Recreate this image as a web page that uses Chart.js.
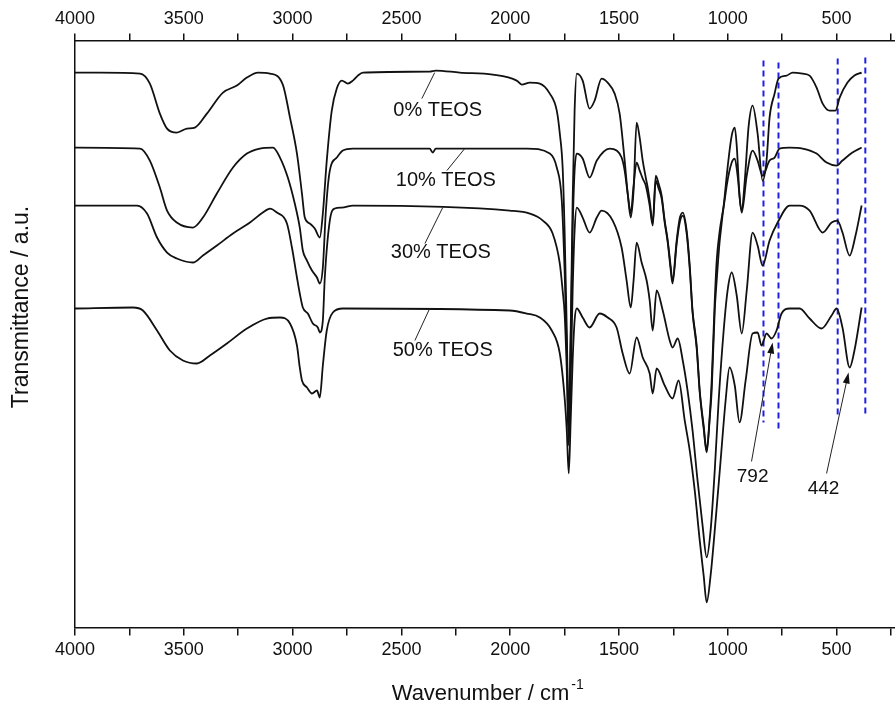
<!DOCTYPE html>
<html lang="en">
  <head>
    <meta charset="UTF-8" />
    <title>FTIR spectra of PEG / TEOS hybrids</title>
    <script src="https://cdn.jsdelivr.net/npm/chart.js"></script>
    <style>
      html,
      body {
        margin: 0;
        padding: 0;
        background: #ffffff;
      }

      .chart-container {
        position: relative;
        width: 895px;
        height: 704px;
      }
    </style>
  </head>
  <body>
    <div class="chart-container">
      <canvas id="ftirChart"></canvas>
    </div>

    <script>
      // Spectra: [wavenumber (cm-1), transmittance (a.u.)]
      const teos0 = [
        [4000, 555], [3885, 555], [3701, 554], [3656, 544], [3610, 514], [3577, 499], [3532, 495],
        [3486, 499], [3449, 500], [3394, 514], [3320, 535], [3256, 542], [3210, 550], [3159, 555],
        [3104, 554], [3045, 543], [3012, 510], [2980, 474], [2957, 434], [2944, 410], [2921, 404],
        [2898, 399], [2875, 390], [2861, 414], [2843, 467], [2820, 517], [2797, 539], [2774, 547],
        [2746, 544], [2723, 547], [2700, 552], [2677, 555], [2370, 556], [2342, 557], [2232, 555],
        [2080, 553], [1970, 547], [1947, 543], [1910, 545], [1864, 544], [1818, 534], [1786, 517],
        [1772, 494], [1759, 460], [1750, 397], [1740, 297], [1731, 207], [1722, 297], [1713, 427],
        [1704, 517], [1694, 554], [1667, 547], [1635, 519], [1612, 527], [1580, 549], [1552, 545],
        [1520, 534], [1497, 514], [1474, 467], [1460, 434], [1446, 410], [1433, 437], [1419, 505],
        [1405, 490], [1391, 467], [1377, 450], [1368, 440], [1359, 427], [1345, 404], [1331, 452],
        [1318, 444], [1304, 432], [1290, 407], [1276, 387], [1263, 362], [1254, 347], [1235, 387],
        [1221, 409], [1207, 415], [1189, 397], [1175, 362], [1162, 317], [1143, 282], [1129, 237],
        [1111, 202], [1097, 177], [1083, 212], [1074, 247], [1060, 327], [1051, 367], [1037, 397],
        [1019, 422], [1001, 460], [982, 492], [968, 500], [959, 482], [946, 432], [936, 417],
        [922, 447], [904, 502], [886, 522], [863, 494], [840, 447], [822, 467], [808, 510],
        [785, 534], [767, 549], [730, 552], [702, 555], [656, 554], [624, 552], [592, 540],
        [564, 524], [532, 517], [505, 517], [486, 530], [450, 545], [418, 552], [385, 555]
      ];

      const teos10 = [
        [4000, 480], [3701, 479], [3656, 467], [3610, 440], [3577, 417], [3532, 405], [3458, 400],
        [3412, 410], [3348, 434], [3274, 460], [3210, 474], [3150, 479], [3090, 480], [3058, 470],
        [3022, 450], [2990, 424], [2967, 400], [2953, 377], [2934, 367], [2911, 357], [2888, 350],
        [2875, 344], [2861, 360], [2847, 417], [2829, 457], [2797, 470], [2769, 477], [2723, 479],
        [2370, 479], [2356, 475], [2342, 479], [1924, 479], [1818, 474], [1786, 460], [1763, 427],
        [1750, 357], [1740, 277], [1731, 197], [1722, 287], [1713, 397], [1704, 457], [1694, 474],
        [1667, 469], [1635, 450], [1602, 467], [1543, 479], [1511, 477], [1488, 470], [1474, 457],
        [1460, 434], [1446, 414], [1433, 442], [1419, 465], [1405, 457], [1391, 449], [1377, 442],
        [1359, 422], [1345, 402], [1331, 447], [1318, 439], [1304, 429], [1290, 405], [1276, 385],
        [1263, 359], [1254, 344], [1235, 384], [1221, 405], [1207, 412], [1189, 394], [1175, 359],
        [1162, 315], [1143, 279], [1129, 235], [1111, 199], [1097, 175], [1083, 209], [1074, 237],
        [1060, 317], [1051, 347], [1037, 387], [1005, 442], [982, 465], [968, 469], [955, 452],
        [936, 415], [913, 452], [886, 477], [863, 467], [840, 452], [808, 467], [785, 470],
        [762, 479], [716, 480], [656, 479], [592, 474], [546, 465], [500, 462], [473, 467],
        [427, 475], [385, 480]
      ];

      const teos30 = [
        [4000, 422], [3715, 422], [3669, 414], [3623, 390], [3577, 375], [3532, 369], [3458, 365],
        [3412, 372], [3348, 382], [3274, 394], [3196, 405], [3137, 415], [3104, 419], [3072, 415],
        [3026, 404], [3003, 380], [2980, 350], [2967, 334], [2953, 320], [2930, 314], [2907, 304],
        [2884, 300], [2875, 295], [2861, 307], [2852, 350], [2829, 407], [2806, 419], [2774, 420],
        [2723, 422], [2002, 417], [1910, 414], [1850, 407], [1805, 394], [1772, 364], [1759, 337],
        [1750, 314], [1740, 257], [1731, 182], [1722, 247], [1713, 337], [1704, 397], [1694, 420],
        [1667, 410], [1635, 395], [1602, 410], [1580, 417], [1529, 407], [1488, 380], [1465, 347],
        [1446, 320], [1433, 347], [1419, 385], [1396, 365], [1373, 347], [1359, 327], [1345, 297],
        [1327, 337], [1299, 317], [1267, 287], [1254, 280], [1230, 289], [1207, 267], [1185, 237],
        [1162, 197], [1139, 147], [1116, 102], [1097, 70], [1079, 97], [1060, 157], [1042, 227],
        [1019, 297], [1001, 337], [982, 355], [959, 332], [936, 294], [913, 337], [886, 395],
        [863, 382], [840, 362], [808, 387], [771, 405], [716, 422], [670, 422], [624, 417],
        [564, 395], [523, 405], [496, 407], [473, 395], [440, 372], [413, 392], [385, 422]
      ];

      const teos50 = [
        [4000, 319], [3734, 320], [3688, 317], [3623, 297], [3564, 277], [3504, 267], [3440, 264],
        [3380, 272], [3302, 284], [3210, 299], [3118, 309], [3058, 310], [3012, 304], [2980, 282],
        [2967, 260], [2957, 247], [2934, 240], [2911, 234], [2888, 237], [2875, 230], [2861, 262],
        [2843, 297], [2815, 315], [2769, 319], [2002, 317], [1924, 314], [1864, 310], [1809, 297],
        [1772, 274], [1750, 230], [1740, 197], [1731, 154], [1722, 207], [1713, 267], [1704, 307],
        [1694, 319], [1667, 310], [1635, 300], [1589, 314], [1552, 310], [1511, 300], [1483, 274],
        [1451, 254], [1419, 290], [1391, 270], [1359, 254], [1345, 234], [1327, 259], [1290, 242],
        [1254, 229], [1226, 247], [1198, 207], [1175, 177], [1152, 137], [1129, 87], [1111, 52],
        [1097, 25], [1079, 52], [1056, 107], [1033, 167], [1010, 227], [992, 260], [968, 242],
        [946, 205], [918, 247], [886, 294], [863, 295], [845, 282], [822, 294], [799, 289],
        [776, 297], [753, 314], [716, 319], [670, 319], [624, 309], [569, 299], [523, 312],
        [500, 319], [473, 300], [440, 260], [418, 277], [385, 320]
      ];

      // Blue dashed guide lines: wavenumber, upper and lower end (a.u.)
      const guideWavenumbers = [836, 767, 495, 368];
      const guideTop = [567, 565, 569, 570];
      const guideBottom = [205, 195, 209, 210];

      // Axis ticks
      const tickValues = [4000, 3750, 3500, 3250, 3000, 2750, 2500, 2250, 2000, 1750, 1500, 1250, 1000, 750, 500, 250];
      const tickLabels = ["4000", "", "3500", "", "3000", "", "2500", "", "2000", "", "1500", "", "1000", "", "500", ""];

      // Curve names with leader lines, and the two marked bands
      const curveLabels = [
        { text: "0% TEOS", at: [2333, 517], from: [2406, 529], to: [2347, 555] },
        { text: "10% TEOS", at: [2296, 447], from: [2291, 457], to: [2209, 479] },
        { text: "30% TEOS", at: [2319, 375], from: [2392, 384], to: [2310, 420] },
        { text: "50% TEOS", at: [2310, 277], from: [2438, 287], to: [2370, 319] }
      ];
      const bandLabels = [
        { text: "792", at: [886, 151], from: [891, 166], to: [794, 285] },
        { text: "442", at: [560, 139], from: [546, 154], to: [445, 255] }
      ];

      const FONT = '"Liberation Sans", Arial, sans-serif';
      const toPoints = (pairs) => pairs.map(([x, y]) => ({ x, y }));

      const spectrumDataset = (pairs) => ({
        data: toPoints(pairs),
        borderColor: "#111111",
        borderWidth: 1.8,
        pointRadius: 0,
        fill: false,
        cubicInterpolationMode: "monotone"
      });

      const guideDatasets = guideWavenumbers.map((w, i) => ({
        data: [
          { x: w, y: guideTop[i] },
          { x: w, y: guideBottom[i] }
        ],
        borderColor: "#1f1fe6",
        borderWidth: 2,
        borderDash: [6, 4],
        pointRadius: 0,
        tension: 0,
        fill: false
      }));

      // Text, leader lines, arrows and axis titles
      const overlayPlugin = {
        id: "ftirOverlay",
        afterDatasetsDraw(chart) {
          const { ctx } = chart;
          const px = (w) => chart.scales.x.getPixelForValue(w);
          const py = (v) => chart.scales.y.getPixelForValue(v);
          ctx.save();
          ctx.fillStyle = "#111";
          ctx.strokeStyle = "#222";
          ctx.textAlign = "center";
          ctx.textBaseline = "middle";

          ctx.font = "20px " + FONT;
          curveLabels.forEach((l) => {
            ctx.lineWidth = 1;
            ctx.beginPath();
            ctx.moveTo(px(l.from[0]), py(l.from[1]));
            ctx.lineTo(px(l.to[0]), py(l.to[1]));
            ctx.stroke();
            ctx.fillText(l.text, px(l.at[0]), py(l.at[1]));
          });

          ctx.font = "19px " + FONT;
          bandLabels.forEach((l) => {
            const x0 = px(l.from[0]), y0 = py(l.from[1]);
            const x1 = px(l.to[0]), y1 = py(l.to[1]);
            const ang = Math.atan2(y1 - y0, x1 - x0);
            ctx.lineWidth = 1;
            ctx.beginPath();
            ctx.moveTo(x0, y0);
            ctx.lineTo(x1 - 8 * Math.cos(ang), y1 - 8 * Math.sin(ang));
            ctx.stroke();
            // arrow head
            ctx.beginPath();
            ctx.moveTo(x1, y1);
            ctx.lineTo(x1 - 11 * Math.cos(ang) + 3.5 * Math.sin(ang), y1 - 11 * Math.sin(ang) - 3.5 * Math.cos(ang));
            ctx.lineTo(x1 - 11 * Math.cos(ang) - 3.5 * Math.sin(ang), y1 - 11 * Math.sin(ang) + 3.5 * Math.cos(ang));
            ctx.closePath();
            ctx.fill();
            ctx.fillText(l.text, px(l.at[0]), py(l.at[1]));
          });
          ctx.restore();
        },
        afterDraw(chart) {
          const { ctx, chartArea } = chart;
          ctx.save();
          ctx.fillStyle = "#111";

          // x title with superscript
          const main = "Wavenumber / cm";
          const sup = "-1";
          ctx.font = "22px " + FONT;
          const wMain = ctx.measureText(main).width;
          ctx.font = "14px " + FONT;
          const wSup = ctx.measureText(sup).width;
          const cx = (chartArea.left + chartArea.right) / 2 + 3;
          const startX = cx - (wMain + wSup + 2) / 2;
          ctx.textAlign = "left";
          ctx.textBaseline = "alphabetic";
          ctx.font = "22px " + FONT;
          ctx.fillText(main, startX, chartArea.bottom + 73);
          ctx.font = "14px " + FONT;
          ctx.fillText(sup, startX + wMain + 2, chartArea.bottom + 62);

          // y title
          ctx.translate(22, (chartArea.top + chartArea.bottom) / 2 - 27);
          ctx.rotate(-Math.PI / 2);
          ctx.textAlign = "center";
          ctx.textBaseline = "middle";
          ctx.font = "23px " + FONT;
          ctx.fillText("Transmittance / a.u.", 0, 0);
          ctx.restore();
        }
      };

      const axisX = (position, tickLength) => ({
        type: "linear",
        position: position,
        reverse: true,
        min: 234,
        max: 4000,
        afterBuildTicks: (scale) => {
          scale.ticks = tickValues.map((value) => ({ value }));
        },
        ticks: {
          autoSkip: false,
          maxRotation: 0,
          padding: 4,
          color: "#111",
          font: { family: FONT, size: 18 },
          callback: (value, index) => tickLabels[index]
        },
        grid: {
          display: true,
          drawOnChartArea: false,
          drawTicks: true,
          tickLength: tickLength,
          color: "#111",
          lineWidth: 1.5
        },
        border: { display: true, color: "#111", width: 1.5 }
      });

      const ctx = document.getElementById("ftirChart").getContext("2d");
      const ftirChart = new Chart(ctx, {
        type: "line",
        data: {
          datasets: [
            spectrumDataset(teos0),
            spectrumDataset(teos10),
            spectrumDataset(teos30),
            spectrumDataset(teos50),
            ...guideDatasets
          ]
        },
        options: {
          responsive: true,
          maintainAspectRatio: false,
          devicePixelRatio: 1,
          animation: false,
          layout: { padding: { left: 75, top: 4, right: 0, bottom: 39 } },
          plugins: {
            legend: { display: false },
            tooltip: { enabled: false }
          },
          scales: {
            x: axisX("bottom", 8),
            x2: axisX("top", 7),
            y: {
              type: "linear",
              min: 0,
              max: 587,
              ticks: { display: false },
              grid: { display: false, drawTicks: false },
              border: { display: true, color: "#111", width: 1.5 }
            }
          }
        },
        plugins: [overlayPlugin]
      });
    </script>
  </body>
</html>
